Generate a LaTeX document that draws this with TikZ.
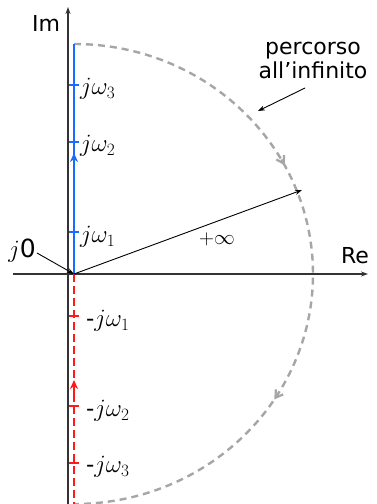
\documentclass[tikz,border=0pt]{standalone}
\usepackage{fontspec}
\setmainfont{DejaVu Sans}
\usetikzlibrary{arrows.meta,decorations.markings}
\definecolor{axisgray}{HTML}{333333}
\definecolor{pathblue}{HTML}{1A6CFF}
\definecolor{pathred}{HTML}{FF1A1A}
\definecolor{arcgray}{HTML}{A6A6A6}
\tikzset{
  axisline/.style={draw=axisgray,line width=1.2pt,-{Stealth[length=7pt,width=5pt]}},
  bluepath/.style={draw=pathblue,line width=2.8pt},
  redpath/.style={draw=pathred,line width=2.8pt,dash pattern=on 8pt off 4pt},
  tickmark/.style={line width=2pt},
  wlabel/.style={anchor=west,inner sep=0pt,font=\fontsize{23}{23}\selectfont},
  txt/.style={inner sep=0pt,font=\fontsize{22}{24}\selectfont},
  pointer/.style={draw=black,line width=0.9pt,-{Stealth[length=7pt,width=5pt]}},
  arcpath/.style={draw=arcgray,line width=2.4pt,dash pattern=on 7pt off 5pt,
    postaction={decorate},
    decoration={markings,
      mark=at position 0.345 with {\draw[arcgray,line width=2.2pt,solid,-{Straight Barb[length=7pt,width=9pt]}] (-6pt,0) -- (0.5pt,0);},
      mark=at position 0.68 with {\draw[arcgray,line width=2.2pt,solid,-{Straight Barb[length=7pt,width=9pt]}] (-6pt,0) -- (0.5pt,0);}}}
}
\begin{document}
\begin{tikzpicture}[x=1pt,y=-1pt]
\useasboundingbox (0,0) rectangle (376,504);
% coordinates
\coordinate (O) at (74,274);
\coordinate (imlo) at (68,504);
\coordinate (imhi) at (68,7);
\coordinate (relo) at (13,274);
\coordinate (rehi) at (368,274);
\coordinate (btop) at (74,44);
\coordinate (rbot) at (74,504);
% axes
\draw[axisline] (imlo) -- (imhi);
\draw[axisline] (relo) -- (rehi);
\node[txt] (im) at (46,23) {Im};
\node[txt] (re) at (355,256) {Re};
% arc
\path[arcpath] (btop) arc[start angle=-90,end angle=90,x radius=239,y radius=230];
% blue path
\draw[bluepath] (O) -- (btop);
\draw[pathblue,line width=2.8pt,-{Stealth[length=9pt,width=8pt]}] (74,175) -- (74,153);
\foreach \y in {85,142,232} \draw[pathblue,tickmark] (69,\y) -- (79,\y);
\node[wlabel] (w3) at (80,89) {$j\omega_3$};
\node[wlabel] (w2) at (80,146) {$j\omega_2$};
\node[wlabel] (w1) at (80,237) {$j\omega_1$};
% red path
\draw[redpath] (O) -- (rbot);
\draw[pathred,line width=2.8pt,-{Stealth[length=9pt,width=8pt]}] (74,396) -- (74,380);
\foreach \y in {316,406,463} \draw[pathred,tickmark] (69,\y) -- (79,\y);
\node[wlabel] (m1) at (86,321) {-$j\omega_1$};
\node[wlabel] (m2) at (86,411) {-$j\omega_2$};
\node[wlabel] (m3) at (86,467) {-$j\omega_3$};
% radius
\coordinate (rtip) at (302,190);
\draw[pointer] (O) -- (rtip);
\node[inner sep=0pt,font=\fontsize{21}{21}\selectfont] (inf) at (217,239) {$+\infty$};
% j0
\node[inner sep=0pt,font=\fontsize{25}{25}\selectfont] (j0) at (22,251) {$j$0};
\draw[pointer] (37,253) -- (O);
% percorso
\node[txt,align=center] (perc) at (313,60) {percorso\\all’infinito};
\coordinate (ptip) at (258,111);
\draw[pointer] (305,88) -- (ptip);
\end{tikzpicture}
\end{document}
